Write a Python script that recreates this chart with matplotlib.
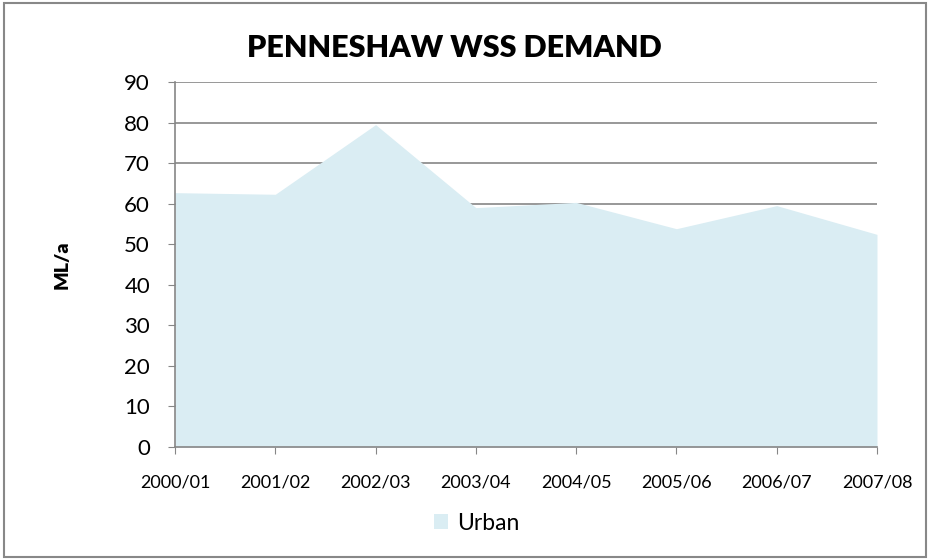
import matplotlib.pyplot as plt
from matplotlib.patches import Rectangle

plt.rcParams['font.family'] = ['Lato', 'DejaVu Sans']

years = ['2000/01', '2001/02', '2002/03', '2003/04', '2004/05', '2005/06', '2006/07', '2007/08']
urban = [62.8, 62.4, 79.6, 59.1, 60.4, 53.9, 59.6, 52.5]
yticks = [0, 10, 20, 30, 40, 50, 60, 70, 80, 90]

fill_col = '#DAEDF3'
grid_col = '#868686'

fig = plt.figure(figsize=(9.3, 5.6), dpi=100)
ax = fig.add_axes([0.1882, 0.2018, 0.943 - 0.1882, 0.8527 - 0.2018])

x = list(range(len(years)))
ax.fill_between(x, urban, 0, color=fill_col, linewidth=0, label='Urban', zorder=2)

ax.set_xlim(0, len(years) - 1)
ax.set_ylim(0, 90)
ax.set_yticks(yticks)
ax.set_xticks(x)
ax.set_xticklabels(years, fontsize=13)
ax.tick_params(axis='y', labelsize=16, length=5, color=grid_col, pad=13)
ax.tick_params(axis='x', length=5, color=grid_col, pad=15)
ax.yaxis.grid(True, color=grid_col, linewidth=1.2, zorder=1)
ax.set_axisbelow(True)

for s in ['top', 'right']:
    ax.spines[s].set_visible(False)
for s in ['left', 'bottom']:
    ax.spines[s].set_color(grid_col)
    ax.spines[s].set_linewidth(1.2)
    ax.spines[s].set_zorder(3)

fig.text(0.489, 0.914, 'PENNESHAW WSS DEMAND', ha='center', va='center',
         fontsize=22, fontweight='heavy')
fig.text(0.067, 0.527, 'ML/a', ha='center', va='center', rotation=90,
         fontsize=14, fontweight='heavy')

fig.legend(loc='center', bbox_to_anchor=(0.513, 0.066), frameon=False,
           fontsize=16.5, handlelength=0.6, handleheight=0.6, handletextpad=0.4)

fig.patches.append(Rectangle((0.004, 0.006), 0.992, 0.988, transform=fig.transFigure,
                             fill=False, edgecolor='#888888', linewidth=1.5))

fig.savefig('out.png', dpi=100)
